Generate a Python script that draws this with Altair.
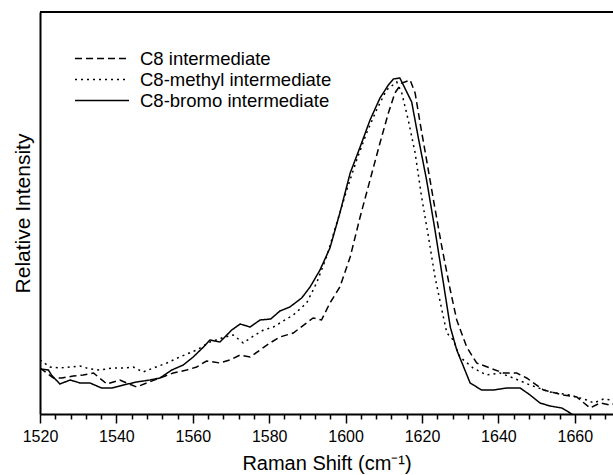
import altair as alt
import pandas as pd

series_names = ["C8 intermediate", "C8-methyl intermediate", "C8-bromo intermediate"]

c8_shift = [1520, 1523.5, 1525.7, 1528.7, 1531.3, 1534, 1537.5, 1540.9, 1542.7, 1545.3,
            1547.9, 1551.4, 1554.9, 1558.4, 1561, 1563.6, 1567.1, 1569.7, 1572.4, 1575,
            1577.6, 1580.2, 1582.8, 1586.3, 1591.5, 1593.7, 1595.9, 1598.5, 1601.2, 1603.8,
            1606.4, 1609, 1611.2, 1612.9, 1614.7, 1616.9, 1618.2, 1619.5, 1621.2, 1623,
            1625.2, 1627.4, 1629.1, 1631.7, 1634.3, 1637.8, 1641.3, 1644.8, 1647.4, 1651.8,
            1657, 1660.5, 1664, 1666.6, 1669.2, 1670]
c8_intensity = [46, 36, 36, 38, 39, 41, 30, 34, 31, 27,
                31, 36, 41, 44, 47, 53, 51, 54, 59, 57,
                64, 71, 77, 81, 96, 94, 111, 127, 157, 197,
                234, 271, 301, 321, 331, 334, 321, 291, 254, 214,
                167, 124, 94, 67, 51, 46, 41, 41, 36, 24,
                19, 17, 6, 11, 9, 10]

methyl_shift = [1520, 1522.6, 1525.2, 1527.9, 1530.5, 1533.1, 1535.7, 1538.8, 1541.8, 1544.4,
                1547, 1549.7, 1553.2, 1556.6, 1561, 1564.5, 1567.6, 1570.6, 1573.2, 1575.9,
                1578.5, 1581.1, 1582.8, 1586.3, 1589.8, 1592.4, 1595, 1597.7, 1600.3, 1602.9,
                1605.5, 1608.1, 1610.7, 1613.4, 1614.7, 1616.4, 1618.2, 1619.9, 1621.7, 1623.4,
                1625.2, 1626.5, 1628.2, 1629.9, 1633.4, 1636.9, 1640.4, 1643.9, 1648.3, 1653.5,
                1658.7, 1663.1, 1665, 1667.5, 1670]
methyl_intensity = [54, 47, 46, 47, 48, 45, 44, 46, 46, 47,
                    42, 46, 51, 57, 64, 72, 76, 79, 71, 78,
                    84, 87, 91, 99, 111, 131, 157, 191, 224, 254,
                    281, 304, 324, 332, 321, 294, 261, 217, 177, 137,
                    104, 81, 74, 57, 46, 39, 41, 36, 29, 22,
                    19, 14, 11, 15, 14]

bromo_shift = [1520, 1522.2, 1523, 1525.2, 1527.9, 1530.5, 1533.1, 1536.1, 1538.8, 1541.8,
               1545.3, 1548.8, 1551.4, 1554.5, 1557.5, 1560.1, 1562.8, 1564.5, 1567.1, 1570.2,
               1572.4, 1575, 1577.6, 1580.4, 1582.8, 1585.4, 1588.5, 1590.7, 1593.3, 1595.9,
               1598.5, 1601.2, 1603.8, 1606.4, 1609, 1611.2, 1612.5, 1614.2, 1615.5, 1617.3,
               1619, 1621.2, 1623.4, 1625.6, 1627.4, 1629.1, 1632.6, 1635.6, 1638.7, 1642.2,
               1645.7, 1648.3, 1650.9, 1653.5, 1656.6, 1659.2, 1662]
bromo_intensity = [45, 44, 39, 30, 34, 31, 31, 26, 26, 29,
                   32, 34, 36, 44, 49, 57, 67, 74, 72, 84,
                   90, 87, 94, 95, 103, 107, 116, 127, 144, 166,
                   201, 241, 267, 294, 316, 329, 335, 336, 326, 312,
                   277, 234, 184, 131, 87, 64, 31, 24, 24, 26,
                   26, 19, 11, 8, 6, 0, -8]

x_tick_values = list(range(1520, 1669, 4))

rows = []
for name, xs, ys in zip(series_names,
                        [c8_shift, methyl_shift, bromo_shift],
                        [c8_intensity, methyl_intensity, bromo_intensity]):
    for xv, yv in zip(xs, ys):
        rows.append({"series": name, "shift": xv, "intensity": yv})
df = pd.DataFrame(rows)

FONT = "Liberation Sans"
W, H = 573, 402

lines = alt.Chart(df).mark_line(clip=True, color="black", strokeWidth=1.5).encode(
    x=alt.X("shift:Q",
            scale=alt.Scale(domain=[1520, 1670], nice=False, zero=False),
            axis=alt.Axis(values=x_tick_values,
                          labelExpr="datum.value % 20 === 0 ? datum.label : ''",
                          tickSize={"condition": {"test": "datum.value % 20 === 0", "value": 9}, "value": 5},
                          tickWidth=1.5, tickColor="black",
                          domainWidth=2, domainColor="black",
                          labelFont=FONT, labelFontSize=16, labelColor="black",
                          labelFlush=False, labelOverlap=False, labelPadding=5,
                          grid=False, format="d",
                          title="Raman Shift (cm\u207B\u00B9)",
                          titleFont=FONT, titleFontSize=20, titleFontWeight="normal",
                          titleColor="black", titlePadding=9)),
    y=alt.Y("intensity:Q",
            scale=alt.Scale(domain=[0, 402], nice=False),
            axis=alt.Axis(ticks=False, labels=False, grid=False,
                          domainWidth=2, domainColor="black",
                          title="Relative Intensity",
                          titleFont=FONT, titleFontSize=21, titleFontWeight="normal",
                          titleColor="black", titlePadding=7)),
    strokeDash=alt.StrokeDash("series:N",
                              scale=alt.Scale(domain=series_names,
                                              range=[[7, 4], [2, 4], [1, 0]]),
                              legend=alt.Legend(title=None, orient="none",
                                                legendX=34, legendY=36,
                                                symbolType="stroke", symbolSize=2916,
                                                symbolStrokeWidth=1.5, symbolStrokeColor="black",
                                                clipHeight=21, rowPadding=0, padding=0,
                                                labelFont=FONT, labelFontSize=18.5,
                                                labelColor="black", labelOffset=10,
                                                labelLimit=400)),
)

top_border = alt.Chart(pd.DataFrame({"edge": ["top"]})).mark_rule(
    color="black", strokeWidth=2
).encode(x=alt.value(0), x2=alt.value(W), y=alt.value(0))

chart = alt.layer(lines, top_border).properties(
    width=W, height=H,
    autosize=alt.AutoSizeParams(type="none"),
    padding={"left": 40, "top": 12, "right": 0, "bottom": 61},
).configure_view(stroke=None).configure(background="white")

chart.save("out.html", embed_options={"renderer": "svg", "actions": False})
